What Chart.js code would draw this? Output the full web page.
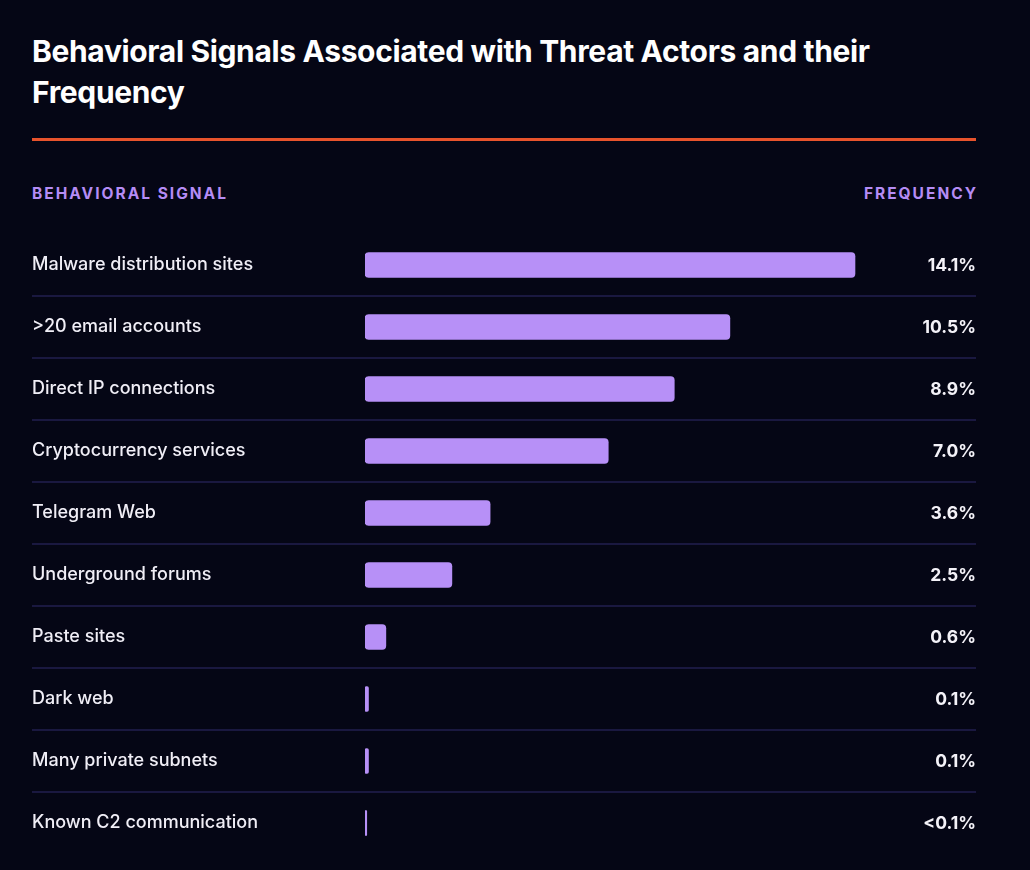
<!DOCTYPE html>
<html>
<head>
<meta charset="utf-8">
<script src="https://cdn.jsdelivr.net/npm/chart.js@4"></script>
<style>
  html, body { margin: 0; padding: 0; background: #050615; }
  body { width: 1030px; height: 870px; position: relative; overflow: hidden; font-family: "Inter", "Lato", sans-serif; }
  #title {
    position: absolute; left: 32px; top: 31px; width: 980px;
    color: #ffffff; font-weight: 700; font-size: 30px; line-height: 41px; letter-spacing: -0.35px;
  }
  #rule { position: absolute; left: 32px; top: 138px; width: 944px; height: 3px; background: #e8532c; }
  .head {
    position: absolute; top: 184px; color: #b58cf5; font-weight: 700; font-size: 15.5px; letter-spacing: 2px;
  }
  #headLeft { left: 32px; }
  #headRight { right: 52px; }
  #wrap { position: absolute; left: 0; top: 220px; width: 1030px; height: 650px; }
</style>
</head>
<body>
<div id="title">Behavioral Signals Associated with Threat Actors and their<br>Frequency</div>
<div id="rule"></div>
<div class="head" id="headLeft">BEHAVIORAL SIGNAL</div>
<div class="head" id="headRight">FREQUENCY</div>
<div id="wrap"><canvas id="myChart"></canvas></div>
<script>
// values
const signals = [
  "Malware distribution sites",
  ">20 email accounts",
  "Direct IP connections",
  "Cryptocurrency services",
  "Telegram Web",
  "Underground forums",
  "Paste sites",
  "Dark web",
  "Many private subnets",
  "Known C2 communication"
];
const frequency = [14.1, 10.5, 8.9, 7.0, 3.6, 2.5, 0.6, 0.1, 0.1, 0.05];
const frequencyLabels = ["14.1%", "10.5%", "8.9%", "7.0%", "3.6%", "2.5%", "0.6%", "0.1%", "0.1%", "<0.1%"];

const barColor = "#b790f7";
const rowLine = "#1a1840";

// separators between rows, full width
const rowLines = {
  id: 'rowLines',
  beforeDatasetsDraw(chart) {
    const y = chart.scales.y;
    const ctx = chart.ctx;
    ctx.save();
    ctx.strokeStyle = rowLine;
    ctx.lineWidth = 2;
    for (let i = 0; i < signals.length - 1; i++) {
      const py = (y.getPixelForValue(i) + y.getPixelForValue(i + 1)) / 2;
      ctx.beginPath();
      ctx.moveTo(32, py);
      ctx.lineTo(976, py);
      ctx.stroke();
    }
    ctx.restore();
  }
};

// percentage text on the right
const valueText = {
  id: 'valueText',
  afterDatasetsDraw(chart) {
    const y = chart.scales.y;
    const ctx = chart.ctx;
    ctx.save();
    ctx.fillStyle = "#f4f2f8";
    ctx.font = "700 17.5px Inter, Lato, sans-serif";
    ctx.textAlign = "right";
    ctx.textBaseline = "middle";
    frequencyLabels.forEach((t, i) => {
      ctx.fillText(t, 976, y.getPixelForValue(i) + 1);
    });
    ctx.restore();
  }
};

const ctx = document.getElementById('myChart');

new Chart(ctx, {
  type: "bar",
  data: {
    labels: signals,
    datasets: [{
      data: frequency,
      backgroundColor: barColor,
      borderRadius: 4,
      borderSkipped: false,
      barThickness: 25
    }]
  },
  options: {
    indexAxis: 'y',
    responsive: true,
    maintainAspectRatio: false,
    animation: false,
    layout: { padding: { left: 32, right: 109, top: 14, bottom: 16 } },
    plugins: {
      legend: { display: false },
      tooltip: { enabled: false }
    },
    scales: {
      x: {
        display: false,
        min: 0,
        max: 16
      },
      y: {
        afterFit(scale) { scale.width = 333; },
        grid: { display: false },
        border: { display: false },
        ticks: {
          crossAlign: 'far',
          color: "#f0eef6",
          padding: 0,
          font: { family: "Inter, Lato, sans-serif", size: 18, weight: '500' }
        }
      }
    }
  },
  plugins: [rowLines, valueText]
});
</script>
</body>
</html>
